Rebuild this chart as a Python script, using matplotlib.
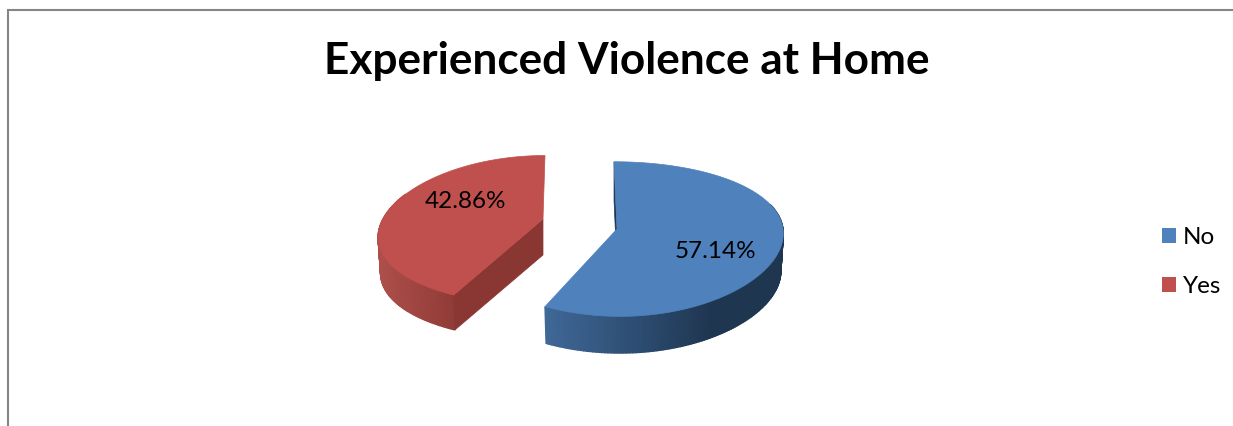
import numpy as np
import matplotlib
matplotlib.use("Agg")
import matplotlib.pyplot as plt
from matplotlib.colors import to_rgb
from matplotlib.patches import Patch

# Data
categories = ["No", "Yes"]
shares = [57.14, 42.86]
share_labels = ["57.14%", "42.86%"]
title = "Experienced Violence at Home"

# Look of the slices
top_colors = ["#4f81bd", "#c0504d"]
cut_colors = ["#1d3552", "#8a3733"]
side_stops = [[(545, "#3f6897"), (640, "#2c4c70"), (710, "#1f3651")],
              [(380, "#ad4e4a"), (458, "#8e3a36")]]
apexes = [(617, 229), (543, 219)]
label_pos = [(715, 252), (465, 201)]

# Perspective of the 3d pie, in pixels, one value per slice
RX = [166, 160]
RY = [76, 73]
TILT = [0.13, 0.15]
DEPTH = [38, 36]
SHEAR = [-3, 2]
SPREAD = [0.04, 0.23]
BOTTOM_SCALE = 0.985

plt.rcParams["font.family"] = ["Lato", "DejaVu Sans"]

fig = plt.figure(figsize=(12.33, 4.26), dpi=100)
ax = fig.add_axes([0, 0, 1, 1])
ax.set_xlim(0, 1233)
ax.set_ylim(426, 0)
ax.axis("off")


def rim(i, deg, lowered=False):
    # circle point -> screen pixels
    u = np.cos(np.radians(deg))
    v = np.sin(np.radians(deg))
    x = RX[i] * u / (1 + SPREAD[i] * v) + SHEAR[i] * v
    y = -RY[i] * v / (1 + TILT[i] * v)
    if lowered:
        return apexes[i][0] + x * BOTTOM_SCALE, apexes[i][1] + y * BOTTOM_SCALE + DEPTH[i]
    return apexes[i][0] + x, apexes[i][1] + y


def side_color(stops, x):
    xs = [s[0] for s in stops]
    rgb = np.array([to_rgb(s[1]) for s in stops])
    return [np.interp(x, xs, rgb[:, k]) for k in range(3)]


start = 90
for i in range(len(shares)):
    end = start - shares[i] * 3.6
    apex = apexes[i]
    angles = np.linspace(start, end, 200)

    # outer wall, in thin strips for the shading, the back part is never seen
    for a0, a1 in zip(angles[:-1], angles[1:]):
        if np.sin(np.radians(a0)) > 0.35:
            continue
        x0, y0 = rim(i, a0)
        x1, y1 = rim(i, a1)
        x2, y2 = rim(i, a1, True)
        x3, y3 = rim(i, a0, True)
        c = side_color(side_stops[i], (x0 + x1) / 2)
        ax.fill([x0, x1, x2, x3], [y0, y1, y2, y3], color=c, lw=1, zorder=2 + i)

    # only the cut wall at the start of the slice faces the viewer
    x0, y0 = rim(i, start)
    x1, y1 = rim(i, start, True)
    ax.fill([apex[0], x0, x1, apex[0]], [apex[1], y0, y1, apex[1] + DEPTH[i]],
            color=cut_colors[i], lw=0.5, zorder=3 + i)

    # top face
    xs, ys = rim(i, angles)
    ax.fill(np.r_[apex[0], xs], np.r_[apex[1], ys], color=top_colors[i], lw=0.5, zorder=5)
    ax.text(label_pos[i][0], label_pos[i][1], share_labels[i], fontsize=17.5,
            ha="center", va="center", color="black", zorder=6)
    start = end

ax.text(627, 61, title, fontsize=31.8, fontweight="bold", ha="center", va="center")

handles = [Patch(facecolor=c, edgecolor="none") for c in top_colors]
ax.legend(handles, categories, loc="center left", bbox_to_anchor=(1162 / 1233, 1 - 262 / 426),
          frameon=False, fontsize=17.5, handlelength=0.58, handleheight=0.6,
          handletextpad=0.28, labelspacing=1.15, borderpad=0, borderaxespad=0)

# chart frame, cut off at the right and bottom
ax.plot([7.5, 7.5, 1233], [426, 10, 10], color="#858585", lw=1.5, solid_joinstyle="miter")

fig.savefig("out.png", dpi=100)
